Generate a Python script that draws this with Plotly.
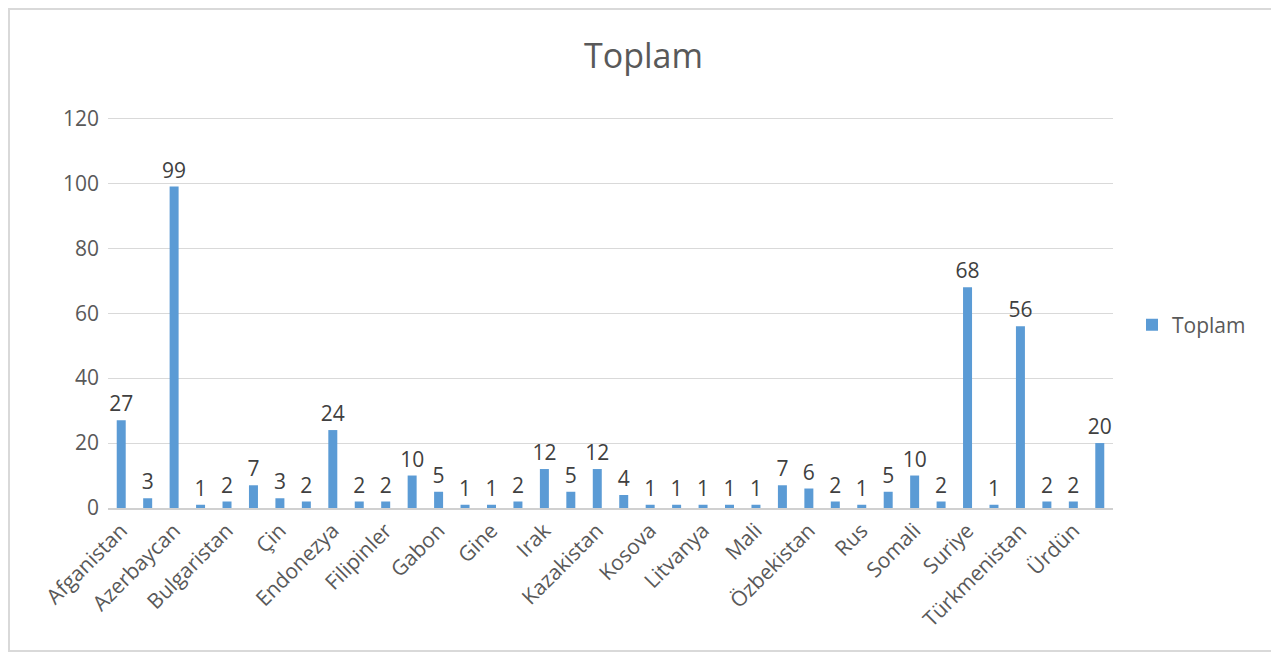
import plotly.graph_objects as go

categories = [
    "Afganistan", "Almanya", "Azerbaycan", "Bangladeş", "Bulgaristan", "Cezayir",
    "Çin", "Doğu Türkistan", "Endonezya", "Fas", "Filipinler", "Filistin",
    "Gabon", "Gana", "Gine", "Gürcistan", "Irak", "İran", "Kazakistan", "Kırgızistan",
    "Kosova", "Libya", "Litvanya", "Makedonya", "Mali", "Moğolistan", "Özbekistan",
    "Pakistan", "Rus", "Sırbistan", "Somali", "Sudan", "Suriye", "Tacikistan",
    "Türkmenistan", "Ukrayna", "Ürdün", "Yemen",
]
values = [27, 3, 99, 1, 2, 7, 3, 2, 24, 2, 2, 10, 5, 1, 1, 2, 12, 5, 12, 4,
          1, 1, 1, 1, 1, 7, 6, 2, 1, 5, 10, 2, 68, 1, 56, 2, 2, 20]
shown_labels = ["Afganistan", "Azerbaycan", "Bulgaristan", "Çin", "Endonezya",
                "Filipinler", "Gabon", "Gine", "Irak", "Kazakistan", "Kosova",
                "Litvanya", "Mali", "Özbekistan", "Rus", "Somali", "Suriye",
                "Türkmenistan", "Ürdün"]
y_ticks = [0, 20, 40, 60, 80, 100, 120]

OFF = 8  # page body margin
W, H = 1279 - OFF, 652 - OFF
# target pixel positions in page coordinates
PL, PR, PT, PB = 108, 1113, 117, 508
L, R, T, B = PL - OFF, (W + OFF) - PR, PT - OFF, (H + OFF) - PB
pw, ph = W - L - R, H - T - B
FONT = "Open Sans"

fig = go.Figure()
fig.add_trace(go.Bar(
    x=categories, y=values, name="Toplam",
    marker=dict(color="#5B9BD5", line=dict(width=0)),
    text=values, textposition="outside", constraintext="none", cliponaxis=False,
    textfont=dict(family=FONT, size=21, color="#404040"),
    showlegend=True,
))

def px_x(p):
    return (p - PL) / pw

def px_y(p):
    return (PB - p) / ph

fig.update_layout(
    width=W, height=H,
    margin=dict(l=L, r=R, t=T, b=B, autoexpand=False),
    paper_bgcolor="white", plot_bgcolor="white",
    bargap=0.66,
    title=dict(text="Toplam", x=0.5, xanchor="center", xref="container",
               y=1 - (56 - OFF) / H, yanchor="middle",
               font=dict(family=FONT, size=34, color="#595959")),
    font=dict(family=FONT, color="#595959"),
    xaxis=dict(
        type="category", tickmode="array", tickvals=shown_labels, ticktext=shown_labels,
        tickangle=-45, tickfont=dict(family=FONT, size=21, color="#595959"),
        showgrid=False, showline=True, linecolor="#D0D0D0", linewidth=2,
        ticks="", ticklen=0, range=[-0.5, len(categories) - 0.5],
    ),
    yaxis=dict(
        range=[0, 120.4], tickmode="array", tickvals=y_ticks,
        tickfont=dict(family=FONT, size=21, color="#595959"),
        showgrid=True, gridcolor="#D9D9D9", gridwidth=1,
        zeroline=False, showline=False, ticks="", ticklen=0,
        ticklabelstandoff=8,
    ),
    legend=dict(x=px_x(1132), y=px_y(325), xanchor="left", yanchor="middle",
                font=dict(family=FONT, size=21, color="#595959"),
                bgcolor="rgba(0,0,0,0)", itemwidth=30),
    shapes=[dict(type="rect", xref="paper", yref="paper",
                 x0=px_x(9), x1=px_x(1275), y0=px_y(651), y1=px_y(9),
                 line=dict(color="#D9D9D9", width=2), layer="below")],
)

fig.write_html("out.html")
